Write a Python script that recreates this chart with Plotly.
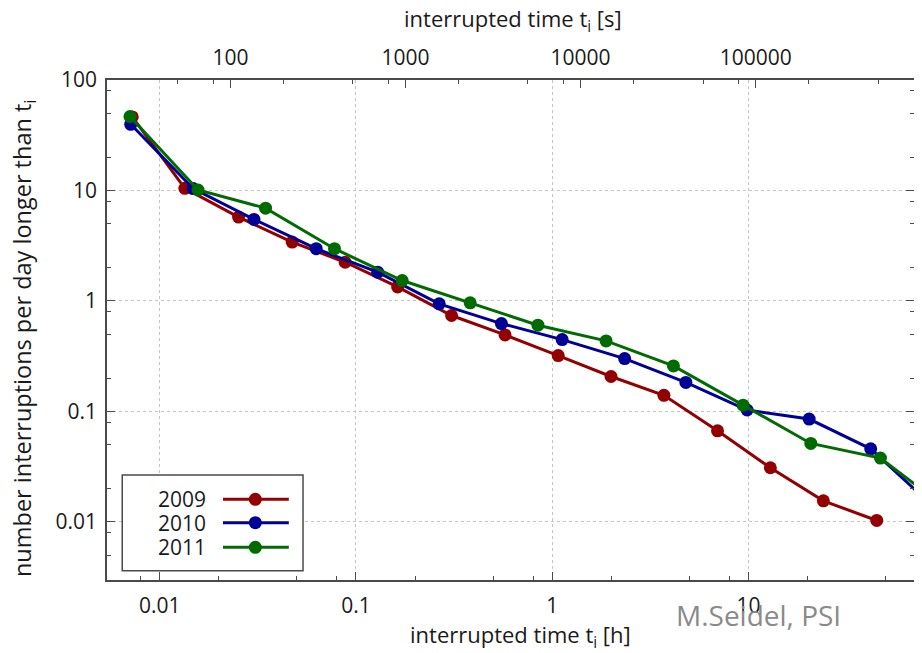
import plotly.graph_objects as go

# ---------------- data ----------------
years = ["2009", "2010", "2011"]
colors = ["#930000", "#000096", "#006b00"]

t_2009 = [0.00724, 0.01342, 0.0252, 0.0473, 0.0881, 0.163, 0.307, 0.575, 1.073,
          1.995, 3.71, 6.96, 12.94, 24.1, 45.1]
n_2009 = [46.3, 10.45, 5.74, 3.41, 2.24, 1.34, 0.738, 0.493, 0.320, 0.207, 0.140,
          0.0668, 0.0309, 0.0155, 0.0103]

t_2010 = [0.00711, 0.01479, 0.0302, 0.0627, 0.129, 0.2655, 0.551, 1.124, 2.34,
          4.80, 9.85, 20.4, 42.0, 86.6]
n_2010 = [39.7, 10.4, 5.47, 2.97, 1.82, 0.942, 0.624, 0.447, 0.301, 0.183, 0.103,
          0.0853, 0.0459, 0.0140]

t_2011 = [0.00705, 0.01567, 0.0346, 0.0777, 0.172, 0.382, 0.846, 1.882, 4.15,
          9.40, 20.8, 47.1, 104]
n_2011 = [46.7, 10.1, 6.92, 2.97, 1.53, 0.962, 0.603, 0.435, 0.258, 0.114,
          0.0513, 0.0378, 0.0129]

x_ticks = [0.01, 0.1, 1, 10]
x_ticktext = ["0.01", "0.1", "1", "10"]
x_minor = [0.008, 0.02, 0.05, 0.08, 0.2, 0.5, 0.8, 2, 5, 8, 20, 50]

x2_ticks = [100, 1000, 10000, 100000]
x2_ticktext = ["100", "1000", "10000", "100000"]
x2_minor = [50, 80, 200, 500, 800, 2000, 5000, 8000, 20000, 50000, 80000,
            200000, 500000]

y_ticks = [0.01, 0.1, 1, 10, 100]
y_ticktext = ["0.01", "0.1", "1", "10", "100"]
y_minor = [0.005, 0.008, 0.02, 0.05, 0.08, 0.2, 0.5, 0.8, 2, 5, 8, 20, 50, 80]

series = [(t_2009, n_2009), (t_2010, n_2010), (t_2011, n_2011)]

FONT = "Open Sans"
TXT = "#1a1a1a"
FRAME = "#4a4a4a"
GRID = "#c4c4c4"

fig = go.Figure()
for (t, n), c, name in zip(series, colors, years):
    fig.add_trace(go.Scatter(
        x=t, y=n, mode="lines+markers", name=name,
        line=dict(color=c, width=3),
        marker=dict(color=c, size=13),
        showlegend=False,
    ))
# empty trace to realise the top (seconds) axis
fig.add_trace(go.Scatter(x=[], y=[], xaxis="x2", yaxis="y", showlegend=False))

tickfont = dict(family=FONT, size=21, color=TXT)

# page body has an 8px default margin: the figure is sized/offset for it
fig.update_layout(
    width=914, height=645,
    margin=dict(l=99, r=6, t=72, b=73),
    paper_bgcolor="white", plot_bgcolor="white",
    font=dict(family=FONT, color=TXT),
    xaxis=dict(
        type="log", range=[-2.269, 1.844],
        tickmode="array", tickvals=x_ticks, ticktext=x_ticktext,
        ticks="inside", ticklen=8, tickwidth=1.2, tickcolor=FRAME,
        minor=dict(tickmode="array", tickvals=x_minor, ticks="inside",
                   ticklen=4, tickwidth=1.2, tickcolor=FRAME, showgrid=False),
        showline=True, linecolor=FRAME, linewidth=1.5, mirror=True,
        showgrid=True, gridcolor=GRID, griddash="dot", gridwidth=1,
        zeroline=False, tickfont=tickfont, ticklabelstandoff=6,
    ),
    xaxis2=dict(
        type="log", range=[1.2952, 5.904], overlaying="x", side="top",
        anchor="y",
        tickmode="array", tickvals=x2_ticks, ticktext=x2_ticktext,
        ticks="inside", ticklen=8, tickwidth=1.2, tickcolor=FRAME,
        minor=dict(tickmode="array", tickvals=x2_minor, ticks="inside",
                   ticklen=4, tickwidth=1.2, tickcolor=FRAME, showgrid=False),
        showline=False, showgrid=False, zeroline=False,
        tickfont=tickfont, ticklabelstandoff=10,
    ),
    yaxis=dict(
        type="log", range=[-2.526, 2.0],
        tickmode="array", tickvals=y_ticks, ticktext=y_ticktext,
        ticks="inside", ticklen=8, tickwidth=1.2, tickcolor=FRAME,
        minor=dict(tickmode="array", tickvals=y_minor, ticks="inside",
                   ticklen=4, tickwidth=1.2, tickcolor=FRAME, showgrid=False),
        showline=True, linecolor=FRAME, linewidth=1.5, mirror="ticks",
        showgrid=True, gridcolor=GRID, griddash="dot", gridwidth=1,
        zeroline=False, tickfont=tickfont, ticklabelstandoff=4,
    ),
)

# axis titles
fig.add_annotation(text="interrupted time t<sub>i</sub> [h]", xref="paper", yref="paper",
                   x=0.512, y=-0.112, xanchor="center", yanchor="middle",
                   showarrow=False, font=dict(family=FONT, size=22, color=TXT))
fig.add_annotation(text="interrupted time t<sub>i</sub> [s]", xref="paper", yref="paper",
                   x=0.503, y=1.12, xanchor="center", yanchor="middle",
                   showarrow=False, font=dict(family=FONT, size=22, color=TXT))
fig.add_annotation(text="number interruptions per day longer than t<sub>i</sub>",
                   xref="paper", yref="paper", x=-0.104, y=0.484, textangle=-90,
                   xanchor="center", yanchor="middle", showarrow=False,
                   font=dict(family=FONT, size=23.5, color=TXT))
fig.add_annotation(text="M.Seidel, PSI", xref="paper", yref="paper",
                   x=(760 - 107) / 809, y=(580 - 615) / 500,
                   xanchor="center", yanchor="middle", showarrow=False,
                   font=dict(family=FONT, size=28, color="#8a8a8a"))

# custom legend (text left, sample right), as in the reference
fig.add_shape(type="rect", xref="paper", yref="paper",
              x0=0.0189, x1=0.2429, y0=0.0186, y1=0.21,
              fillcolor="white", line=dict(color=FRAME, width=1.5), layer="above")
rows_y = [0.1614, 0.1146, 0.0654]
for name, c, ry in zip(years, colors, rows_y):
    fig.add_shape(type="line", xref="paper", yref="paper",
                  x0=0.1437, x1=0.2253, y0=ry, y1=ry,
                  line=dict(color=c, width=3), layer="above")
    fig.add_shape(type="circle", xref="paper", yref="paper",
                  xsizemode="pixel", ysizemode="pixel",
                  xanchor=0.1838, yanchor=ry, x0=-6.5, x1=6.5, y0=-6.5, y1=6.5,
                  fillcolor=c, line=dict(color=c, width=0), layer="above")
    fig.add_annotation(text=name, xref="paper", yref="paper", x=0.1252, y=ry,
                       xanchor="right", yanchor="middle", showarrow=False,
                       font=dict(family=FONT, size=21, color=TXT))

fig.write_html("out.html")
